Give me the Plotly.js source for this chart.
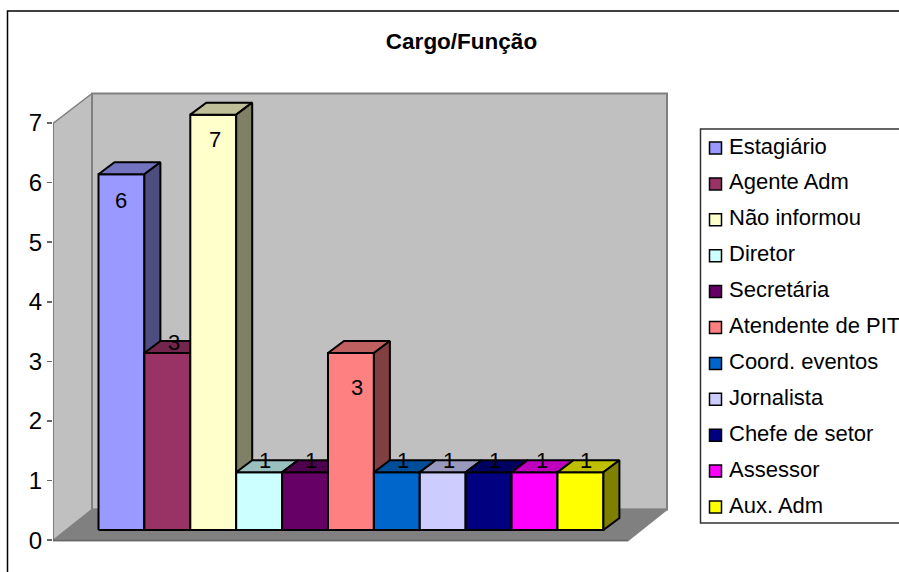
<!DOCTYPE html>
<html>
<head>
<meta charset="utf-8">
<script src="https://cdn.plot.ly/plotly-3.0.1.min.js"></script>
<style>html,body{margin:0;padding:0;background:#fff;overflow:hidden}#c{width:899px;height:572px}</style>
</head>
<body>
<div id="c"></div>
<script>
const categories = ["Estagiário","Agente Adm","Não informou","Diretor","Secretária","Atendente de PIT","Coord. eventos","Jornalista","Chefe de setor","Assessor","Aux. Adm"];
const values = [6,3,7,1,1,3,1,1,1,1,1];
const barColors = ["#9999FF","#993366","#FFFFCC","#CCFFFF","#660066","#FF8080","#0066CC","#CCCCFF","#000080","#FF00FF","#FFFF00"];
const yTicks = [0,1,2,3,4,5,6,7];
const titleText = "Cargo/Função";

// layout geometry (pixels -> axis units)
const W = 899, H = 572, ml = 53, mb = 22;
const unitX = 45.9, unitY = 59.6, x0px = 98.5, y0px = 540.2;
const X = p => (p - x0px) / unitX;
const Y = p => (y0px - p) / unitY;
const PX = p => (p - ml) / (W - ml);
const PY = p => ((H - mb) - p) / (H - mb);

const depthX = 16 / unitX, depthY = 12 / unitY;
const lift = 0.14, floorY = Y(530);
const FONT = '"Liberation Sans", Arial, sans-serif';

function shade(hex, k){
  const n = parseInt(hex.slice(1), 16);
  return 'rgb(' + [(n>>16)&255, (n>>8)&255, n&255].map(c => Math.round(c*k)).join(',') + ')';
}
function poly(xs, ys, fill, lineColor, lw){
  return {type:'scatter', mode:'lines', x:xs.concat(xs[0]), y:ys.concat(ys[0]), fill:'toself',
    fillcolor:fill, line:{color:lineColor, width:lw}, hoverinfo:'skip', showlegend:false};
}
function path(xs, ys, color, lw){
  return {type:'scatter', mode:'lines', x:xs, y:ys, line:{color:color, width:lw}, hoverinfo:'skip', showlegend:false};
}

const traces = [];
// walls and floor
const fl = X(53), fr = X(628), bl = X(92), br = X(667), fb = Y(540.5), bb = Y(509.5), ft = Y(123.5), bt = Y(93.5);
traces.push(poly([fl,bl,bl,fl],[fb,bb,bt,ft],'#C0C0C0','#C0C0C0',1));
traces.push(poly([bl,br,br,bl],[bb,bb,bt,bt],'#C0C0C0','#808080',2));
traces.push(poly([fl,fr,br,bl],[fb,fb,bb,bb],'#808080','#808080',1.5));
traces.push(path([fl,bl],[ft,bt],'#808080',1.5));
traces.push(path([fl,fl],[fb,ft],'#666666',1.5));
traces.push(path([fl,fr],[fb,fb],'#666666',1.5));

// bars, painted left to right
values.forEach((v,i) => {
  const l = i, r = i + 1, top = v + lift, c = barColors[i];
  traces.push(poly([l,r,r,l],[floorY,floorY,top,top],c,'#000',2));
  traces.push(poly([l,r,r+depthX,l+depthX],[top,top,top+depthY,top+depthY],shade(c,0.75),'#000',2));
  traces.push(poly([r,r+depthX,r+depthX,r],[floorY,floorY+depthY,top+depthY,top],shade(c,0.5),'#000',2));
});

// legend
const legendRowY = categories.map((_,i) => Y(148 + 35.9*i));
traces.push({type:'scatter', mode:'markers', x:categories.map(()=>X(715.5)), y:legendRowY,
  marker:{symbol:'square', size:12, color:barColors, line:{color:'#000', width:1.5}},
  hoverinfo:'skip', showlegend:false});
traces.push({type:'scatter', mode:'text', x:categories.map(()=>X(729)), y:legendRowY,
  text:categories, textposition:'middle right',
  textfont:{family:FONT, size:22, color:'#000'}, hoverinfo:'skip', showlegend:false});

// data labels (offset from the value, like the source's automatic placement)
const labelShiftX = [0,7,2,6,6,6,6,6,6,7,6];
const labelShiftY = [-18,19,-16,20,20,-26,20,20,20,20,20];
const annotations = values.map((v,i) => ({x:i+0.5, y:v, xref:'x', yref:'y', text:String(v), showarrow:false,
  xshift:labelShiftX[i], yshift:labelShiftY[i], font:{family:FONT, size:22, color:'#000'}}));

const layout = {
  width:W, height:H, autosize:false, paper_bgcolor:'#fff', plot_bgcolor:'#fff',
  margin:{l:ml, r:0, t:0, b:mb, pad:0}, showlegend:false,
  title:{text:titleText, x:PX(461.5), y:1-41/H, xanchor:'center', yanchor:'middle', xref:'paper', yref:'container',
    font:{family:FONT, size:22.5, color:'#000', weight:'bold'}},
  xaxis:{range:[X(ml), X(W)], visible:false, fixedrange:true},
  yaxis:{range:[Y(H-mb), Y(0)], tickmode:'array', tickvals:yTicks, ticktext:yTicks.map(String), ticks:'outside', ticklen:5,
    tickwidth:1.5, tickcolor:'#666666', showgrid:false, zeroline:false, showline:false, fixedrange:true,
    tickfont:{family:FONT, size:24, color:'#000'}},
  shapes:[
    {type:'rect', xref:'paper', yref:'paper', x0:PX(7.5), x1:PX(910), y0:PY(11), y1:PY(590), line:{color:'#000', width:1.5}, fillcolor:'rgba(0,0,0,0)', layer:'below'},
    {type:'rect', xref:'paper', yref:'paper', x0:PX(700.5), x1:PX(910), y0:PY(129), y1:PY(523), line:{color:'#333', width:1.5}, fillcolor:'#fff', layer:'below'}
  ],
  annotations
};
Plotly.newPlot('c', traces, layout, {displayModeBar:false, staticPlot:true});
</script>
</body>
</html>
